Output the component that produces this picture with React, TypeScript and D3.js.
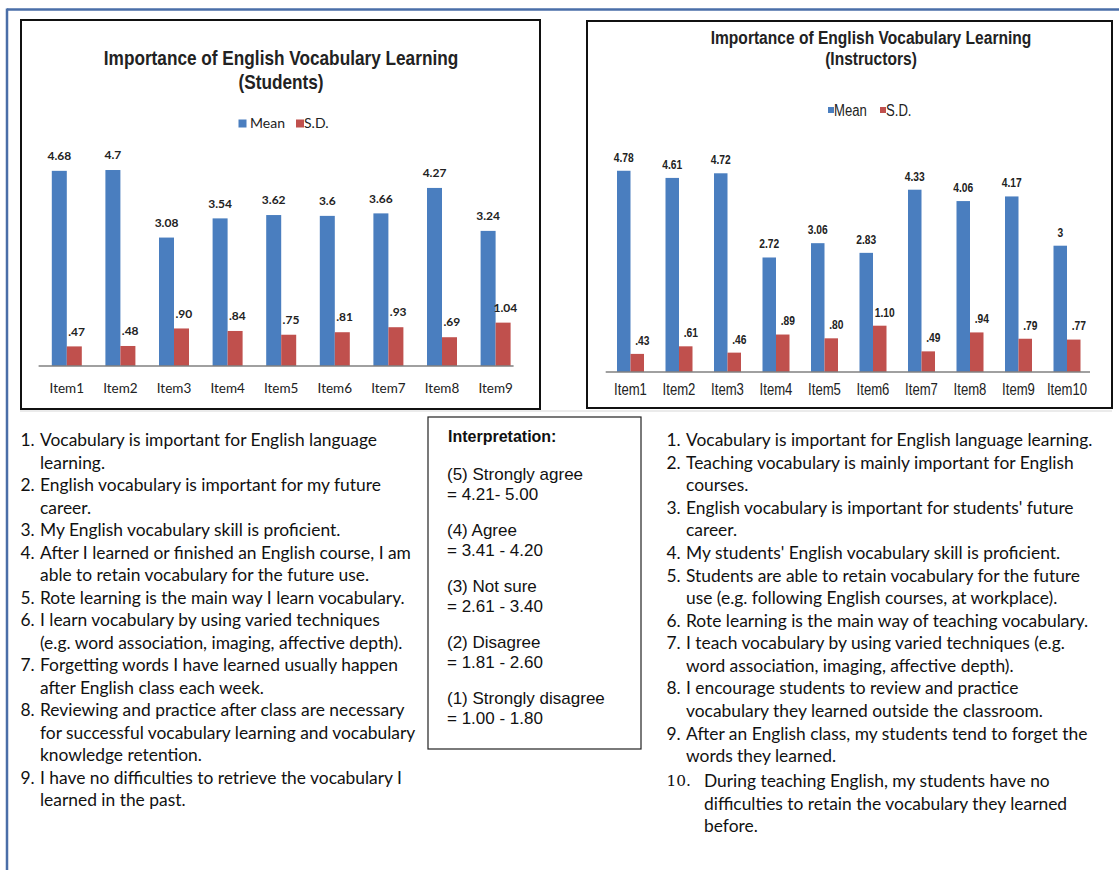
import React from "react";
import * as d3 from "d3";

// ---------- data ----------
const studentItems = ["Item1", "Item2", "Item3", "Item4", "Item5", "Item6", "Item7", "Item8", "Item9"];
const studentMean = [4.68, 4.7, 3.08, 3.54, 3.62, 3.6, 3.66, 4.27, 3.24];
const studentSD = [0.47, 0.48, 0.9, 0.84, 0.75, 0.81, 0.93, 0.69, 1.04];
const studentMeanLabels = ["4.68", "4.7", "3.08", "3.54", "3.62", "3.6", "3.66", "4.27", "3.24"];
const studentSDLabels = [".47", ".48", ".90", ".84", ".75", ".81", ".93", ".69", "1.04"];

const instructorItems = ["Item1", "Item2", "Item3", "Item4", "Item5", "Item6", "Item7", "Item8", "Item9", "Item10"];
const instructorMean = [4.78, 4.61, 4.72, 2.72, 3.06, 2.83, 4.33, 4.06, 4.17, 3];
const instructorSD = [0.43, 0.61, 0.46, 0.89, 0.8, 1.1, 0.49, 0.94, 0.79, 0.77];
const instructorMeanLabels = ["4.78", "4.61", "4.72", "2.72", "3.06", "2.83", "4.33", "4.06", "4.17", "3"];
const instructorSDLabels = [".43", ".61", ".46", ".89", ".80", "1.10", ".49", ".94", ".79", ".77"];

const studentStatements = [
  ["Vocabulary is important for English language", "learning."],
  ["English vocabulary is important for my future", "career."],
  ["My English vocabulary skill is proficient."],
  ["After I learned or finished an English course, I am", "able to retain vocabulary for the future use."],
  ["Rote learning is the main way I learn vocabulary."],
  ["I learn vocabulary by using varied techniques", "(e.g. word association, imaging, affective depth)."],
  ["Forgetting words I have learned usually happen", "after English class each week."],
  ["Reviewing and practice after class are necessary", "for successful vocabulary learning and vocabulary", "knowledge retention."],
  ["I have no difficulties to retrieve the vocabulary I", "learned in the past."],
];

const instructorStatements = [
  ["Vocabulary is important for English language learning."],
  ["Teaching vocabulary is mainly important for English", "courses."],
  ["English vocabulary is important for students' future", "career."],
  ["My students' English vocabulary skill is proficient."],
  ["Students are able to retain vocabulary for the future", "use (e.g. following English courses, at workplace)."],
  ["Rote learning is the main way of teaching vocabulary."],
  ["I teach vocabulary by using varied techniques (e.g.", "word association, imaging, affective depth)."],
  ["I encourage students to review and practice", "vocabulary they learned outside the classroom."],
  ["After an English class, my students tend to forget the", "words they learned."],
  ["During teaching English, my students have no", "difficulties to retain the vocabulary they learned", "before."],
];

const interpretationTitle = "Interpretation:";
const interpretationLevels = [
  ["(5) Strongly agree", "= 4.21- 5.00"],
  ["(4) Agree", "= 3.41 - 4.20"],
  ["(3) Not sure", "= 2.61 - 3.40"],
  ["(2) Disagree", "= 1.81 - 2.60"],
  ["(1) Strongly disagree", "= 1.00 - 1.80"],
];

const seriesNames = ["Mean", "S.D."];

// ---------- styles ----------
const BLUE = "#4A7EBF";
const RED = "#C0504D";
const ARIAL = "'Liberation Sans', Arial, sans-serif";
const CALIBRI = "Lato, Carlito, Calibri, sans-serif";
const NARROW_SCALE = 0.82;

type FontSpec = { family: string; narrow: boolean };
const NARROWF: FontSpec = { family: ARIAL, narrow: true };
const CALF: FontSpec = { family: CALIBRI, narrow: false };

function T(props: {
  x: number;
  y: number;
  f: FontSpec;
  size: number;
  bold?: boolean;
  anchor?: string;
  fill?: string;
  children: React.ReactNode;
}) {
  const { x, y, f, size, bold, anchor, fill, children } = props;
  const sx = f.narrow ? NARROW_SCALE : 1;
  return (
    <text
      transform={`translate(${x},${y}) scale(${sx},1)`}
      dy="0.35em"
      textAnchor={anchor || "start"}
      fontFamily={f.family}
      fontWeight={bold ? "bold" : "normal"}
      fontSize={size}
      fill={fill || "#222"}
    >
      {children}
    </text>
  );
}

type ChartCfg = {
  box: [number, number, number, number];
  title: string[];
  titleX: number;
  titleY: number[];
  titleSize: number;
  legendY: number;
  legendSq: number;
  legendX: [number, number, number, number];
  legendFont: FontSpec;
  legendSize: number;
  xRange: [number, number];
  barW: number;
  yRange: [number, number];
  axisX: [number, number];
  valFont: FontSpec;
  valSize: number;
  valOffset: number;
  sdShift: number;
  labelY: number;
  labelFont: FontSpec;
  labelSize: number;
};

function BarChart(props: {
  cfg: ChartCfg;
  items: string[];
  mean: number[];
  sd: number[];
  meanLabels: string[];
  sdLabels: string[];
}) {
  const { cfg, items, mean, sd, meanLabels, sdLabels } = props;
  const x = d3.scaleBand<string>().domain(items).range(cfg.xRange).padding(0);
  const inner = d3
    .scaleBand<string>()
    .domain(seriesNames)
    .range([x.bandwidth() / 2 - cfg.barW, x.bandwidth() / 2 + cfg.barW]);
  const y = d3.scaleLinear().domain([0, 5]).range(cfg.yRange);
  const [bx0, by0, bx1, by1] = cfg.box;
  const base = y(0);
  const series = [
    { name: "Mean", vals: mean, labels: meanLabels, color: BLUE, shift: 0 },
    { name: "S.D.", vals: sd, labels: sdLabels, color: RED, shift: cfg.sdShift },
  ];
  return (
    <g>
      <rect x={bx0} y={by0} width={bx1 - bx0} height={by1 - by0} fill="#fff" stroke="#111" strokeWidth={2} />
      {cfg.title.map((t, i) => (
        <T key={i} x={cfg.titleX} y={cfg.titleY[i]} f={NARROWF} size={cfg.titleSize} bold anchor="middle">
          {t}
        </T>
      ))}
      {/* legend */}
      <rect x={cfg.legendX[0]} y={cfg.legendY - cfg.legendSq / 2} width={cfg.legendSq} height={cfg.legendSq} fill={BLUE} />
      <T x={cfg.legendX[1]} y={cfg.legendY} f={cfg.legendFont} size={cfg.legendSize}>
        {seriesNames[0]}
      </T>
      <rect x={cfg.legendX[2]} y={cfg.legendY - cfg.legendSq / 2} width={cfg.legendSq} height={cfg.legendSq} fill={RED} />
      <T x={cfg.legendX[3]} y={cfg.legendY} f={cfg.legendFont} size={cfg.legendSize}>
        {seriesNames[1]}
      </T>
      {/* bars */}
      {series.map((s) =>
        items.map((it, i) => {
          const bx = (x(it) as number) + (inner(s.name) as number);
          const top = y(s.vals[i]);
          return (
            <g key={s.name + it}>
              <rect x={bx} y={top} width={inner.bandwidth()} height={base - top} fill={s.color} />
              <T
                x={bx + inner.bandwidth() / 2 + s.shift}
                y={top - cfg.valOffset}
                f={cfg.valFont}
                size={cfg.valSize}
                bold
                anchor="middle"
              >
                {s.labels[i]}
              </T>
            </g>
          );
        })
      )}
      {/* axis */}
      <line x1={cfg.axisX[0]} x2={cfg.axisX[1]} y1={base} y2={base} stroke="#808080" strokeWidth={1.5} />
      {items.map((it) => (
        <T
          key={it}
          x={(x(it) as number) + x.bandwidth() / 2}
          y={cfg.labelY}
          f={cfg.labelFont}
          size={cfg.labelSize}
          anchor="middle"
        >
          {it}
        </T>
      ))}
    </g>
  );
}

const leftCfg: ChartCfg = {
  box: [21, 20, 540, 409],
  title: ["Importance of English Vocabulary Learning", "(Students)"],
  titleX: 281,
  titleY: [58, 82],
  titleSize: 21,
  legendY: 123.5,
  legendSq: 8,
  legendX: [238.5, 250, 296, 304],
  legendFont: CALF,
  legendSize: 14,
  xRange: [40, 522.4],
  barW: 15,
  yRange: [366, 157.5],
  axisX: [38.6, 513.6],
  valFont: CALF,
  valSize: 12,
  valOffset: 15,
  sdShift: 2.3,
  labelY: 388,
  labelFont: CALF,
  labelSize: 13.5,
};

const rightCfg: ChartCfg = {
  box: [587, 21, 1112, 408],
  title: ["Importance of English Vocabulary  Learning", "(Instructors)"],
  titleX: 871,
  titleY: [37, 58],
  titleSize: 19,
  legendY: 110,
  legendSq: 6,
  legendX: [828, 834, 880, 886],
  legendFont: NARROWF,
  legendSize: 16,
  xRange: [606.25, 1091.25],
  barW: 13.5,
  yRange: [372, 161.5],
  axisX: [605.7, 1090],
  valFont: NARROWF,
  valSize: 12.5,
  valOffset: 13.5,
  sdShift: 5,
  labelY: 389,
  labelFont: NARROWF,
  labelSize: 16,
};

function Statements(props: {
  list: string[][];
  numX: number;
  textX: number;
  startY: number;
  step: number;
  size: number;
}) {
  const { list, numX, textX, startY, step, size } = props;
  const out: React.ReactNode[] = [];
  let row = 0;
  list.forEach((lines, i) => {
    const n = i + 1;
    const isTen = n >= 10;
    const extra = isTen ? 2.5 : 0;
    const tx = isTen ? textX + 18 : textX;
    lines.forEach((ln, j) => {
      const yy = startY + row * step + extra;
      if (j === 0) {
        out.push(
          <text
            key={`n${i}`}
            x={numX}
            y={yy}
            dy="0.35em"
            fontFamily={isTen ? "'DejaVu Serif', 'Liberation Serif', serif" : CALIBRI}
            fontSize={isTen ? size - 2 : size}
            fill="#111"
          >
            {`${n}.`}
          </text>
        );
      }
      out.push(
        <text key={`t${i}-${j}`} x={tx} y={yy} dy="0.35em" fontFamily={CALIBRI} fontSize={size} fill="#111">
          {ln}
        </text>
      );
      row++;
    });
  });
  return <g>{out}</g>;
}

export default function App() {
  return (
    <svg
      width={1119}
      height={870}
      style={{ position: "absolute", left: 0, top: 0, background: "#fff" }}
      xmlns="http://www.w3.org/2000/svg"
    >
      <rect x={0} y={0} width={1119} height={870} fill="#fff" />
      {/* outer frame (left and top edges) */}
      <line x1={7} x2={1119} y1={9.5} y2={9.5} stroke="#4A6EA8" strokeWidth={2.5} />
      <line x1={7} x2={7} y1={8.5} y2={870} stroke="#4A6EA8" strokeWidth={2.5} />
      <line x1={20} x2={1112} y1={411} y2={411} stroke="#e4e4e4" strokeWidth={1.5} />

      <BarChart
        cfg={leftCfg}
        items={studentItems}
        mean={studentMean}
        sd={studentSD}
        meanLabels={studentMeanLabels}
        sdLabels={studentSDLabels}
      />
      <BarChart
        cfg={rightCfg}
        items={instructorItems}
        mean={instructorMean}
        sd={instructorSD}
        meanLabels={instructorMeanLabels}
        sdLabels={instructorSDLabels}
      />

      <Statements list={studentStatements} numX={20.5} textX={40} startY={440} step={22.5} size={17.4} />
      <Statements list={instructorStatements} numX={666.5} textX={686} startY={440} step={22.57} size={17.4} />

      {/* interpretation box */}
      <rect x={428} y={417} width={213} height={332} fill="#fff" stroke="#222" strokeWidth={1.2} />
      <text x={448} y={436} dy="0.35em" fontFamily={ARIAL} fontWeight="bold" fontSize={16} fill="#111">
        {interpretationTitle}
      </text>
      {interpretationLevels.map((lv, i) => (
        <g key={i}>
          <text x={447} y={474 + i * 56} dy="0.35em" fontFamily={ARIAL} fontSize={17} fill="#111">
            {lv[0]}
          </text>
          <text x={447} y={494 + i * 56} dy="0.35em" fontFamily={ARIAL} fontSize={17} fill="#111">
            {lv[1]}
          </text>
        </g>
      ))}
    </svg>
  );
}
